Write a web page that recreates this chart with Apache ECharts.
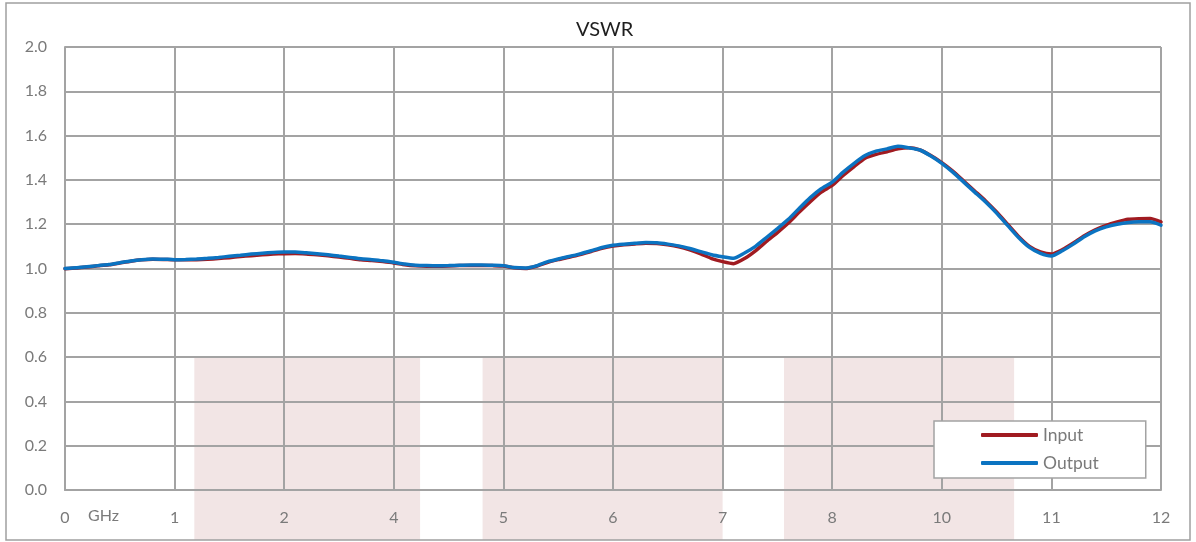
<!DOCTYPE html>
<html>
<head>
<meta charset="utf-8">
<script src="https://cdn.jsdelivr.net/npm/echarts@6/dist/echarts.min.js"></script>
<style>html,body{margin:0;padding:0;background:#fff}#c{width:1196px;height:542px}</style>
</head>
<body>
<div id="c"></div>
<script>
// x tick labels (the axis positions 0..10 are labelled like this)
const tickLabels = ['0','1','2','4','5','6','7','8','10','11','12'];
// sample step along the axis (in tick units)
const sampleStep = 0.1;
const outputVSWR = [
 1.000,1.003,1.008,1.013,1.018,1.026,1.034,1.040,1.043,1.042,
 1.040,1.041,1.043,1.046,1.050,1.055,1.060,1.065,1.069,1.072,
 1.074,1.074,1.071,1.067,1.062,1.056,1.050,1.044,1.040,1.035,
 1.028,1.020,1.015,1.013,1.012,1.013,1.015,1.016,1.016,1.015,
 1.013,1.004,1.002,1.012,1.030,1.043,1.054,1.066,1.080,1.095,
 1.105,1.110,1.114,1.117,1.116,1.110,1.102,1.090,1.076,1.062,
 1.053,1.046,1.070,1.100,1.140,1.180,1.222,1.272,1.320,1.360,
 1.390,1.435,1.475,1.510,1.530,1.540,1.552,1.545,1.535,1.508,
 1.475,1.435,1.390,1.345,1.300,1.250,1.195,1.140,1.095,1.068,
 1.056,1.080,1.110,1.143,1.170,1.188,1.200,1.208,1.211,1.211,
 1.196];
const inputVSWR = [
 0.999,1.002,1.007,1.012,1.017,1.025,1.033,1.039,1.042,1.041,
 1.039,1.039,1.040,1.042,1.045,1.049,1.054,1.058,1.062,1.065,
 1.067,1.068,1.066,1.062,1.057,1.052,1.046,1.040,1.036,1.031,
 1.025,1.017,1.012,1.010,1.010,1.011,1.013,1.014,1.014,1.013,
 1.011,1.003,1.000,1.010,1.027,1.040,1.051,1.063,1.077,1.091,
 1.101,1.107,1.111,1.114,1.113,1.107,1.098,1.084,1.066,1.045,
 1.031,1.022,1.045,1.080,1.122,1.162,1.205,1.255,1.302,1.345,
 1.375,1.420,1.460,1.498,1.515,1.527,1.540,1.545,1.535,1.510,
 1.478,1.440,1.395,1.350,1.305,1.255,1.200,1.145,1.100,1.075,
 1.065,1.085,1.115,1.148,1.175,1.195,1.210,1.222,1.225,1.226,
 1.210];
// shaded bands: start, end (axis positions), top value
const bandStart = [1.18, 3.81, 6.56];
const bandEnd   = [3.24, 6.00, 8.66];
const bandTop   = [0.6, 0.6, 0.6];

const toPairs = arr => arr.map((v, i) => [+(i * sampleStep).toFixed(2), v]);
const bands = bandStart.map((s, i) => [s, bandEnd[i], bandTop[i]]);

const FONT = 'Lato, "Open Sans", sans-serif';
const GRID = '#a3a3a3';
const chart = echarts.init(document.getElementById('c'));
chart.setOption({
  animation: false,
  backgroundColor: '#fff',
  title: {
    text: 'VSWR', left: 571, top: 15,
    textStyle: { fontFamily: FONT, fontSize: 20, fontWeight: 'normal', color: '#1e1e1e' }
  },
  graphic: [
    { type: 'rect', shape: { x: 6, y: 3, width: 1184, height: 537 }, z: 100,
      style: { fill: 'none', stroke: '#a0a0a0', lineWidth: 1.5 }, silent: true },
    { type: 'text', left: 88, top: 508, z: 100,
      style: { text: 'GHz', font: '16px ' + FONT, fill: '#7a7a7a' } }
  ],
  grid: { left: 65, right: 35, top: 47, bottom: 52, containLabel: false },
  legend: {
    data: ['Input', 'Output'], orient: 'vertical', left: 934, top: 421,
    padding: [4, 47, 5, 47], itemGap: 8, itemWidth: 57, itemHeight: 4,
    icon: 'roundRect', backgroundColor: '#fff', borderColor: GRID, borderWidth: 1.5,
    textStyle: { fontFamily: FONT, fontSize: 17.5, color: '#7a7a7a', lineHeight: 20 }
  },
  xAxis: {
    type: 'value', min: 0, max: 10, interval: 1,
    axisLine: { show: true, lineStyle: { color: GRID, width: 2 } },
    axisTick: { show: false },
    splitLine: { show: true, lineStyle: { color: GRID, width: 2 } },
    axisLabel: {
      margin: 20, fontFamily: FONT, fontSize: 16, color: '#7a7a7a',
      formatter: v => tickLabels[Math.round(v)] ?? ''
    }
  },
  yAxis: {
    type: 'value', min: 0, max: 2, interval: 0.2,
    axisLine: { show: true, lineStyle: { color: GRID, width: 2 } },
    axisTick: { show: false },
    splitLine: { show: true, lineStyle: { color: GRID, width: 2 } },
    axisLabel: { margin: 18, fontFamily: FONT, fontSize: 16, color: '#7a7a7a',
      formatter: v => v.toFixed(1) }
  },
  series: [
    {
      type: 'custom', name: 'bands', z: -1, clip: false, silent: true,
      data: bands,
      renderItem: (params, api) => {
        const p0 = api.coord([api.value(0), api.value(2)]);
        const p1 = api.coord([api.value(1), 0]);
        return { type: 'rect',
          shape: { x: p0[0], y: p0[1], width: p1[0] - p0[0], height: api.getHeight() - 2 - p0[1] },
          style: { fill: '#f2e5e5' } };
      }
    },
    {
      name: 'Input', type: 'line', data: toPairs(inputVSWR), showSymbol: false, symbol: 'none',
      smooth: 0.2, color: '#a01b21', lineStyle: { width: 3.5, color: '#a01b21', cap: 'round' }, z: 3
    },
    {
      name: 'Output', type: 'line', data: toPairs(outputVSWR), showSymbol: false, symbol: 'none',
      smooth: 0.2, color: '#0b73c1', lineStyle: { width: 3.5, color: '#0b73c1', cap: 'round' }, z: 4
    }
  ]
});
</script>
</body>
</html>
